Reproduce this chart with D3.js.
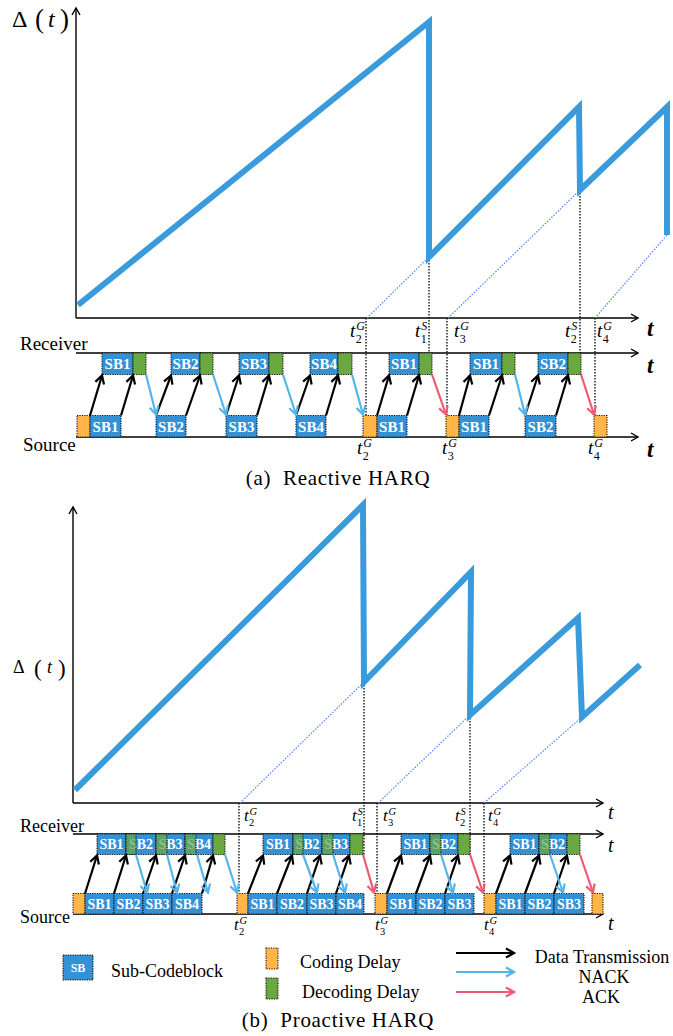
<!DOCTYPE html>
<html><head><meta charset="utf-8">
<script src="https://cdn.jsdelivr.net/npm/d3@7"></script>
<style>body{margin:0;background:#fff}svg{display:block}text{font-family:"Liberation Serif","Times New Roman",serif}</style>
</head><body><svg id="c" width="673" height="1036"></svg>
<script>
// ================= DATA =================
// ---- (a) Reactive HARQ ----
const aAgeTimes  = [2, 353, 353, 503, 504, 591, 591];
const aAgeValues = [13, 296, 61, 211, 128, 211, 83];
const aGuides = [[291, 0, 353, 61], [372, 0, 504, 128], [519, 0, 591, 83]];
const aMarkersUp  = [[353, 61], [504, 128]];            // t^S (to receiver)
const aMarkersDown = [290, 371, 519];                   // t^G (to source)
const aSource = [["c",1,14],["SB1",14,45],["SB2",80,110],["SB3",150,181],["SB4",220,250],
                 ["c",287,301],["SB1",301,331],["c",370,383],["SB1",383,413],["SB2",449,480],["c",518,531]];
const aReceiver = [["SB1",26,57],["d",57,70],["SB2",95,124],["d",124,137],["SB3",163,193],["d",193,207],
                   ["SB4",234,262],["d",262,276],["SB1",313,343],["d",343,356],["SB1",394,426],["d",426,439],
                   ["SB2",462,492],["d",492,505]];
const aOverlay = [];
const aData = [[14,26],[45,57],[80,95],[110,124],[150,163],[181,193],[220,234],[250,262],
               [301,313],[331,343],[383,394],[413,426],[449,462],[480,492]];
const aNack = [[70,80],[137,150],[207,220],[276,287],[439,449]];
const aAck  = [[356,370],[505,518]];
const aAxisLabels = [[274,"2","G"],[339,"1","S"],[378,"3","G"],[489,"2","S"],[521,"4","G"]];
const aSrcLabels  = [[281,"2","G"],[366,"3","G"],[512,"4","G"]];

// ---- (b) Proactive HARQ ----
const bAgeTimes  = [2, 290, 291, 398, 397, 505, 509, 567];
const bAgeValues = [13, 298, 121, 231, 88, 185, 86, 138];
const bGuides = [[167, 0, 291, 121], [305, 0, 397, 88], [411, 0, 509, 86]];
const bMarkersUp  = [[291, 121], [397, 88]];
const bMarkersDown = [166, 304, 411];
const bSource = [["c",0,12],["SB1",12,41],["SB2",41,70],["SB3",70,99],["SB4",99,129],
                 ["c",164,175],["SB1",175,204],["SB2",204,234],["SB3",234,263],["SB4",263,291],
                 ["c",302,314],["SB1",314,343],["SB2",343,372],["SB3",372,401],
                 ["c",411,423],["SB1",423,452],["SB2",452,481],["SB3",481,511],["c",519,530]];
const bReceiver = [["SB1",24,53],["SB2",53,83],["SB3",83,112],["SB4",112,140],["d",140,152],
                   ["SB1",190,220],["SB2",220,249],["SB3",249,277],["d",277,290],
                   ["SB1",328,357],["SB2",357,385],["d",385,397],
                   ["SB1",437,466],["SB2",466,494],["d",494,507]];
const bOverlay = [[53,63],[83,94],[112,123],[220,230],[249,260],[357,368],[466,477]];
const bData = [[12,24],[41,53],[70,83],[99,112],[129,140],[175,190],[204,219],[234,247],[263,276],
               [314,328],[343,357],[372,385],[423,437],[452,466],[481,494]];
const bNack = [[63,74],[94,104],[124,135],[152,164],[230,244],[260,272],[368,380],[477,490]];
const bAck  = [[290,301],[397,410],[507,520]];
const bAxisLabels = [[171,"2","G"],[279,"1","S"],[310,"3","G"],[382,"2","S"],[415,"4","G"]];
const bSrcLabels  = [[161,"2","G"],[302,"3","G"],[411,"4","G"]];

const legendItems = ["Sub-Codeblock","Coding Delay","Decoding Delay"];
const legendArrows = ["Data Transmission","NACK","ACK"];
const captions = ["(a)  Reactive HARQ","(b)  Proactive HARQ"];

// ================= STYLE =================
const C = {age:"#3a9bdc", sb:"#3391d6", code:"#ffb547", dec:"#6aa842", nack:"#55b5e8", ack:"#ee5a72", guide:"#5a8ef2"};

const svg = d3.select("#c");
const defs = svg.append("defs");
function mk(id, color, w, len, half){
  defs.append("marker").attr("id",id)
    .attr("viewBox",`${-len-3} ${-half-3} ${len+6} ${2*half+6}`)
    .attr("refX",0).attr("refY",0)
    .attr("markerWidth",len+6).attr("markerHeight",2*half+6)
    .attr("markerUnits","userSpaceOnUse").attr("orient","auto")
    .append("path").attr("d",`M${-len},${-half}L0,0L${-len},${half}`)
    .attr("fill","none").attr("stroke",color).attr("stroke-width",w).attr("stroke-linejoin","miter");
}
mk("axA","#000",1.4,7,4);
mk("arK","#000",2.2,8,4.5);
mk("arN",C.nack,2.2,8,4.5);
mk("arR",C.ack,2.2,8,4.5);

function tLabel(g, x, b, sub, sup, size, ss){
  g.append("text").attr("x",x).attr("y",b).attr("font-size",size).attr("font-style","italic").text("t");
  g.append("text").attr("x",x+size*0.33).attr("y",b-size*0.38).attr("font-size",ss).attr("font-style","italic").text(sup);
  g.append("text").attr("x",x+size*0.3).attr("y",b+size*0.32).attr("font-size",ss).text(sub);
}

function drawPanel(p){
  const g = svg.append("g");
  const x = d3.scaleLinear().domain(p.tDom).range([p.x0, p.x1]);
  const y = d3.scaleLinear().domain([0,300]).range([p.axisY, p.axisY-300]);
  const recTop = p.recvY, recBot = p.recvY + p.bh;
  const srcTop = p.srcY - p.bh, srcBot = p.srcY;

  // axes
  g.append("line").attr("x1",p.x0).attr("y1",p.axisY).attr("x2",p.x0).attr("y2",p.yTop)
    .attr("stroke","#000").attr("stroke-width",1.4).attr("marker-end","url(#axA)");
  [p.axisY, p.recvY, p.srcY].forEach(yy=>{
    g.append("line").attr("x1",p.x0).attr("y1",yy).attr("x2",p.x1).attr("y2",yy)
      .attr("stroke","#000").attr("stroke-width",1.4).attr("marker-end","url(#axA)");
  });
  p.tY.forEach(b=>{
    g.append("text").attr("x",p.tX).attr("y",b).attr("font-size",p.tSize)
      .attr("font-style","italic").attr("font-weight",p.tBold?"bold":"normal").text("t");
  });
  g.append("text").attr("x",p.laneX).attr("y",p.recvTextY).attr("font-size",p.laneSize).text("Receiver");
  g.append("text").attr("x",p.laneX+p.srcDx).attr("y",p.srcTextY).attr("font-size",p.laneSize).text("Source");

  // guides (dotted blue diagonals)
  p.guides.forEach(d=>{
    g.append("line").attr("x1",x(d[0])).attr("y1",y(d[1])).attr("x2",x(d[2])).attr("y2",y(d[3]))
      .attr("stroke",C.guide).attr("stroke-width",1.3).attr("stroke-dasharray","1.5,1.5");
  });
  // vertical dotted markers
  p.mUp.forEach(d=>{
    g.append("line").attr("x1",x(d[0])).attr("y1",y(d[1])).attr("x2",x(d[0])).attr("y2",recBot)
      .attr("stroke","#000").attr("stroke-width",1.3).attr("stroke-dasharray","1.5,1.5");
  });
  p.mDown.forEach(d=>{
    g.append("line").attr("x1",x(d)).attr("y1",p.axisY).attr("x2",x(d)).attr("y2",srcTop)
      .attr("stroke","#000").attr("stroke-width",1.3).attr("stroke-dasharray","1.5,1.5");
  });

  // blocks
  function block(d, top){
    const fill = d[0]==="c" ? C.code : d[0]==="d" ? C.dec : C.sb;
    g.append("rect").attr("x",x(d[1])).attr("y",top).attr("width",x(d[2])-x(d[1])).attr("height",p.bh)
      .attr("fill",fill).attr("stroke","#111").attr("stroke-width",1.1).attr("stroke-dasharray","1.2,1.2");
    if(d[0].startsWith("SB")){
      g.append("text").attr("x",(x(d[1])+x(d[2]))/2).attr("y",top+p.bh/2+p.fs*0.35)
        .attr("text-anchor","middle").attr("font-size",p.fs).attr("font-weight","bold")
        .attr("fill","#fff").text(d[0]);
    }
  }
  p.src.forEach(d=>block(d, srcTop));
  p.rec.forEach(d=>block(d, recTop));
  p.ov.forEach(d=>{
    g.append("rect").attr("x",x(d[0])).attr("y",recTop).attr("width",x(d[1])-x(d[0])).attr("height",p.bh)
      .attr("fill",C.dec).attr("fill-opacity",0.72).attr("stroke","#111").attr("stroke-width",1.1).attr("stroke-dasharray","1.2,1.2");
  });

  // arrows
  p.data.forEach(d=>{
    g.append("line").attr("x1",x(d[0])).attr("y1",srcTop).attr("x2",x(d[1])).attr("y2",recBot+1)
      .attr("stroke","#000").attr("stroke-width",2.2).attr("marker-end","url(#arK)");
  });
  p.nack.forEach(d=>{
    g.append("line").attr("x1",x(d[0])).attr("y1",recBot).attr("x2",x(d[1])).attr("y2",srcTop-1)
      .attr("stroke",C.nack).attr("stroke-width",2.2).attr("marker-end","url(#arN)");
  });
  p.ack.forEach(d=>{
    g.append("line").attr("x1",x(d[0])).attr("y1",recBot).attr("x2",x(d[1])).attr("y2",srcTop-1)
      .attr("stroke",C.ack).attr("stroke-width",2.2).attr("marker-end","url(#arR)");
  });

  // labels
  p.axL.forEach(d=>tLabel(g, x(d[0]), p.axLY, d[1], d[2], p.lblSize, p.ssSize));
  p.srcL.forEach(d=>tLabel(g, x(d[0]), p.srcLY, d[1], d[2], p.lblSize, p.ssSize));

  // age curve
  const pts = p.times.map((t,i)=>[t, p.vals[i]]);
  g.append("path").attr("d", d3.line().x(d=>x(d[0])).y(d=>y(d[1]))(pts))
    .attr("fill","none").attr("stroke",C.age).attr("stroke-width",6).attr("stroke-linejoin","miter");
  return g;
}

drawPanel({tDom:[0,562], x0:76, x1:638, axisY:318, yTop:8, recvY:353, srcY:437, bh:21.5,
  tX:647, tY:[336,373,457], tSize:23, tBold:true, laneX:20, srcDx:3, recvTextY:350, srcTextY:451, laneSize:19,
  guides:aGuides, mUp:aMarkersUp, mDown:aMarkersDown, src:aSource, rec:aReceiver, ov:aOverlay,
  data:aData, nack:aNack, ack:aAck, axL:aAxisLabels, axLY:337, srcL:aSrcLabels, srcLY:454,
  lblSize:19, ssSize:12, fs:15, times:aAgeTimes, vals:aAgeValues});

drawPanel({tDom:[0,530], x0:73, x1:603, axisY:803, yTop:507, recvY:834, srcY:914, bh:20.5,
  tX:608, tY:[819,852,930], tSize:20, tBold:false, laneX:20, srcDx:0, recvTextY:832, srcTextY:923, laneSize:18,
  guides:bGuides, mUp:bMarkersUp, mDown:bMarkersDown, src:bSource, rec:bReceiver, ov:bOverlay,
  data:bData, nack:bNack, ack:bAck, axL:bAxisLabels, axLY:821, srcL:bSrcLabels, srcLY:930,
  lblSize:17, ssSize:10.5, fs:14, times:bAgeTimes, vals:bAgeValues});

// y-axis titles
const ya = svg.append("g");
ya.append("text").attr("x",12).attr("y",27).attr("font-size",24).text("Δ");
ya.append("text").attr("x",35).attr("y",28).attr("font-size",27).text("(");
ya.append("text").attr("x",48).attr("y",27).attr("font-size",24).attr("font-style","italic").text("t");
ya.append("text").attr("x",60).attr("y",28).attr("font-size",27).text(")");
ya.append("text").attr("x",13).attr("y",673).attr("font-size",18).text("Δ");
ya.append("text").attr("x",34).attr("y",676).attr("font-size",23).text("(");
ya.append("text").attr("x",47).attr("y",673).attr("font-size",18).attr("font-style","italic").text("t");
ya.append("text").attr("x",58).attr("y",676).attr("font-size",23).text(")");

// captions
[[485, captions[0]], [1027, captions[1]]].forEach(c=>{
  svg.append("text").attr("x",338).attr("y",c[0]).attr("text-anchor","middle").attr("font-size",21)
    .attr("letter-spacing",0.7).attr("xml:space","preserve").style("white-space","pre").text(c[1]);
});

// legend
const lg = svg.append("g");
const legBoxes = [[63,955,30,25,C.sb],[266,948,12,21,C.code],[266,978,12,21,C.dec]];
legBoxes.forEach(b=>{
  lg.append("rect").attr("x",b[0]).attr("y",b[1]).attr("width",b[2]).attr("height",b[3]).attr("fill",b[4])
    .attr("stroke","#111").attr("stroke-width",1.1).attr("stroke-dasharray","1.2,1.2");
});
lg.append("text").attr("x",78).attr("y",972).attr("text-anchor","middle").attr("font-size",12)
  .attr("font-weight","bold").attr("fill","#fff").text("SB");
lg.append("text").attr("x",111).attr("y",977).attr("font-size",18).text(legendItems[0]);
lg.append("text").attr("x",300).attr("y",968).attr("font-size",18).text(legendItems[1]);
lg.append("text").attr("x",302).attr("y",998).attr("font-size",18).text(legendItems[2]);
const arrowRows = [[953,"#000","arK"],[972,C.nack,"arN"],[992,C.ack,"arR"]];
arrowRows.forEach(r=>{
  lg.append("line").attr("x1",456).attr("y1",r[0]).attr("x2",514).attr("y2",r[0])
    .attr("stroke",r[1]).attr("stroke-width",2.2).attr("marker-end",`url(#${r[2]})`);
});
lg.append("text").attr("x",602).attr("y",963).attr("text-anchor","middle").attr("font-size",18).text(legendArrows[0]);
lg.append("text").attr("x",604).attr("y",983).attr("text-anchor","middle").attr("font-size",18).text(legendArrows[1]);
lg.append("text").attr("x",601).attr("y",1003).attr("text-anchor","middle").attr("font-size",18).text(legendArrows[2]);
</script></body></html>
